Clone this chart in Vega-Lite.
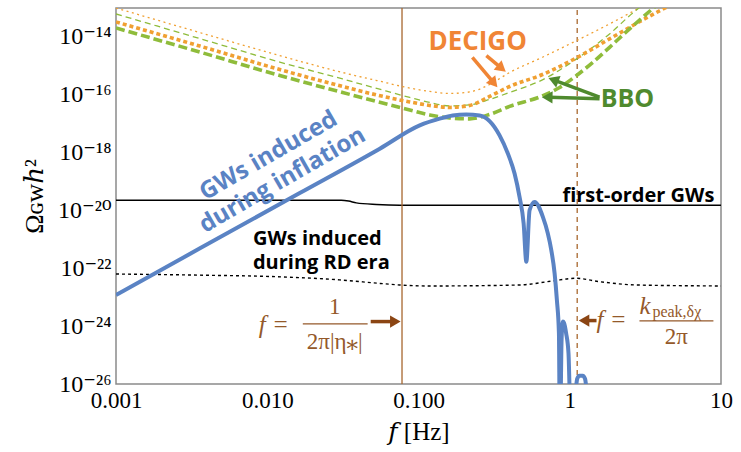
{
  "$schema": "https://vega.github.io/schema/vega-lite/v6.json",
  "width": 605,
  "height": 376,
  "autosize": {"type": "none"},
  "padding": {"left": 116, "top": 8, "right": 20, "bottom": 68},
  "background": "white",
  "config": {
    "view": {"stroke": "#8a8a8a", "strokeWidth": 1.5},
    "axis": {
      "grid": false,
      "domain": false,
      "ticks": false,
      "tickSize": 0,
      "labelFont": "Liberation Serif, DejaVu Serif",
      "labelFontSize": 23,
      "labelColor": "black",
      "titleFont": "Liberation Serif, DejaVu Serif",
      "titleFontWeight": "normal",
      "titleFontSize": 25,
      "titleColor": "black",
      "labelOverlap": false,
      "labelFlush": false,
      "labelBound": false
    }
  },
  "datasets": {
    "curves": [
      {"series": "bbo_thick", "f": 0.001, "omega": 2.04e-14},
      {"series": "bbo_thick", "f": 0.00359, "omega": 2.99e-15},
      {"series": "bbo_thick", "f": 0.0121, "omega": 4.63e-16},
      {"series": "bbo_thick", "f": 0.0315, "omega": 1.2e-16},
      {"series": "bbo_thick", "f": 0.053, "omega": 5.87e-17},
      {"series": "bbo_thick", "f": 0.0875, "omega": 2.99e-17},
      {"series": "bbo_thick", "f": 0.1186, "omega": 2.01e-17},
      {"series": "bbo_thick", "f": 0.1607, "omega": 1.58e-17},
      {"series": "bbo_thick", "f": 0.2178, "omega": 1.47e-17},
      {"series": "bbo_thick", "f": 0.295, "omega": 2.09e-17},
      {"series": "bbo_thick", "f": 0.4, "omega": 3.95e-17},
      {"series": "bbo_thick", "f": 0.66, "omega": 9.2e-17},
      {"series": "bbo_thick", "f": 0.857, "omega": 1.79e-16},
      {"series": "bbo_thick", "f": 1.109, "omega": 4.63e-16},
      {"series": "bbo_thick", "f": 1.415, "omega": 1.3e-15},
      {"series": "bbo_thick", "f": 1.833, "omega": 4.37e-15},
      {"series": "bbo_thick", "f": 2.373, "omega": 1.52e-14},
      {"series": "bbo_thick", "f": 3.03, "omega": 4.74e-14},
      {"series": "bbo_thick", "f": 3.92, "omega": 1.52e-13},
      {"series": "bbo_thin", "f": 0.001, "omega": 6.21e-14},
      {"series": "bbo_thin", "f": 0.00359, "omega": 8.73e-15},
      {"series": "bbo_thin", "f": 0.0121, "omega": 1.35e-15},
      {"series": "bbo_thin", "f": 0.0315, "omega": 3.51e-16},
      {"series": "bbo_thin", "f": 0.053, "omega": 1.65e-16},
      {"series": "bbo_thin", "f": 0.0875, "omega": 8.07e-17},
      {"series": "bbo_thin", "f": 0.1186, "omega": 5.42e-17},
      {"series": "bbo_thin", "f": 0.1607, "omega": 4.11e-17},
      {"series": "bbo_thin", "f": 0.2178, "omega": 4.45e-17},
      {"series": "bbo_thin", "f": 0.295, "omega": 6.89e-17},
      {"series": "bbo_thin", "f": 0.4, "omega": 1.2e-16},
      {"series": "bbo_thin", "f": 0.66, "omega": 3.29e-16},
      {"series": "bbo_thin", "f": 1.109, "omega": 1.74e-15},
      {"series": "bbo_thin", "f": 1.833, "omega": 1.27e-14},
      {"series": "bbo_thin", "f": 2.81, "omega": 9.25e-14},
      {"series": "bbo_thin", "f": 3.37, "omega": 1.79e-13},
      {"series": "decigo_thick", "f": 0.001, "omega": 3.29e-14},
      {"series": "decigo_thick", "f": 0.00359, "omega": 4.82e-15},
      {"series": "decigo_thick", "f": 0.0121, "omega": 7.45e-16},
      {"series": "decigo_thick", "f": 0.0315, "omega": 1.93e-16},
      {"series": "decigo_thick", "f": 0.053, "omega": 9.84e-17},
      {"series": "decigo_thick", "f": 0.0875, "omega": 5.65e-17},
      {"series": "decigo_thick", "f": 0.1186, "omega": 4.28e-17},
      {"series": "decigo_thick", "f": 0.1607, "omega": 3.65e-17},
      {"series": "decigo_thick", "f": 0.2178, "omega": 4.28e-17},
      {"series": "decigo_thick", "f": 0.295, "omega": 8.73e-17},
      {"series": "decigo_thick", "f": 0.4, "omega": 1.93e-16},
      {"series": "decigo_thick", "f": 0.66, "omega": 5.01e-16},
      {"series": "decigo_thick", "f": 1.109, "omega": 1.89e-15},
      {"series": "decigo_thick", "f": 1.833, "omega": 8.53e-15},
      {"series": "decigo_thick", "f": 3.03, "omega": 3.85e-14},
      {"series": "decigo_thick", "f": 4.56, "omega": 1.2e-13},
      {"series": "decigo_thin", "f": 0.001, "omega": 1.0e-13},
      {"series": "decigo_thin", "f": 0.00359, "omega": 1.41e-14},
      {"series": "decigo_thin", "f": 0.0121, "omega": 2.26e-15},
      {"series": "decigo_thin", "f": 0.0315, "omega": 5.87e-16},
      {"series": "decigo_thin", "f": 0.053, "omega": 3.11e-16},
      {"series": "decigo_thin", "f": 0.0875, "omega": 1.71e-16},
      {"series": "decigo_thin", "f": 0.1186, "omega": 1.3e-16},
      {"series": "decigo_thin", "f": 0.1607, "omega": 1.11e-16},
      {"series": "decigo_thin", "f": 0.2178, "omega": 1.25e-16},
      {"series": "decigo_thin", "f": 0.295, "omega": 2.26e-16},
      {"series": "decigo_thin", "f": 0.4, "omega": 5.87e-16},
      {"series": "decigo_thin", "f": 0.66, "omega": 1.98e-15},
      {"series": "decigo_thin", "f": 1.109, "omega": 7.45e-15},
      {"series": "decigo_thin", "f": 1.833, "omega": 2.81e-14},
      {"series": "decigo_thin", "f": 2.89, "omega": 1.0e-13},
      {"series": "decigo_thin", "f": 3.63, "omega": 1.79e-13},
      {"series": "inflation", "f": 0.001, "omega": 1.2e-23},
      {"series": "inflation", "f": 0.00359, "omega": 4.9e-22},
      {"series": "inflation", "f": 0.0164, "omega": 4.01e-20},
      {"series": "inflation", "f": 0.0555, "omega": 1.37e-18},
      {"series": "inflation", "f": 0.1019, "omega": 8.73e-18},
      {"series": "inflation", "f": 0.138, "omega": 1.49e-17},
      {"series": "inflation", "f": 0.1683, "omega": 1.93e-17},
      {"series": "inflation", "f": 0.207, "omega": 2.09e-17},
      {"series": "inflation", "f": 0.2535, "omega": 1.93e-17},
      {"series": "inflation", "f": 0.295, "omega": 1.23e-17},
      {"series": "inflation", "f": 0.3436, "omega": 3.95e-18},
      {"series": "inflation", "f": 0.39, "omega": 9.25e-19},
      {"series": "inflation", "f": 0.4317, "omega": 1.89e-19},
      {"series": "inflation", "f": 0.4656, "omega": 2.94e-20},
      {"series": "inflation", "f": 0.4955, "omega": 3.56e-21},
      {"series": "inflation", "f": 0.5164, "omega": 1.69e-22},
      {"series": "inflation", "f": 0.5425, "omega": 1.02e-20},
      {"series": "inflation", "f": 0.5853, "omega": 1.98e-20},
      {"series": "inflation", "f": 0.664, "omega": 6.01e-21},
      {"series": "inflation", "f": 0.716, "omega": 1.61e-21},
      {"series": "inflation", "f": 0.755, "omega": 4.28e-22},
      {"series": "inflation", "f": 0.794, "omega": 6.73e-23},
      {"series": "inflation", "f": 0.822, "omega": 8.07e-24},
      {"series": "inflation", "f": 0.848, "omega": 5.74e-25},
      {"series": "inflation", "f": 0.858, "omega": 1e-27},
      {"series": "inflation", "f": 0.866, "omega": 1e-27},
      {"series": "inflation", "f": 0.883, "omega": 3.37e-25},
      {"series": "inflation", "f": 0.9, "omega": 1.44e-24},
      {"series": "inflation", "f": 0.916, "omega": 1.3e-24},
      {"series": "inflation", "f": 0.946, "omega": 5.74e-25},
      {"series": "inflation", "f": 0.981, "omega": 1.17e-25},
      {"series": "inflation", "f": 1.012, "omega": 1e-27},
      {"series": "inflation", "f": 1.096, "omega": 6.4e-27},
      {"series": "inflation", "f": 1.12, "omega": 1.52e-26},
      {"series": "inflation", "f": 1.159, "omega": 1.93e-26},
      {"series": "inflation", "f": 1.219, "omega": 1.93e-26},
      {"series": "inflation", "f": 1.262, "omega": 1.52e-26},
      {"series": "inflation", "f": 1.291, "omega": 6.4e-27},
      {"series": "first_order", "f": 0.001, "omega": 2.26e-20},
      {"series": "first_order", "f": 0.0309, "omega": 2.26e-20},
      {"series": "first_order", "f": 0.0345, "omega": 2.12e-20},
      {"series": "first_order", "f": 0.0388, "omega": 1.83e-20},
      {"series": "first_order", "f": 0.0527, "omega": 1.61e-20},
      {"series": "first_order", "f": 0.0752, "omega": 1.52e-20},
      {"series": "first_order", "f": 10, "omega": 1.52e-20},
      {"series": "rd", "f": 0.001, "omega": 6.35e-23},
      {"series": "rd", "f": 0.00359, "omega": 5.8e-23},
      {"series": "rd", "f": 0.0115, "omega": 5.13e-23},
      {"series": "rd", "f": 0.03, "omega": 3.98e-23},
      {"series": "rd", "f": 0.0557, "omega": 3.0e-23},
      {"series": "rd", "f": 0.0752, "omega": 2.65e-23},
      {"series": "rd", "f": 0.1186, "omega": 2.45e-23},
      {"series": "rd", "f": 0.466, "omega": 2.65e-23},
      {"series": "rd", "f": 0.769, "omega": 3.65e-23},
      {"series": "rd", "f": 1.09, "omega": 4.52e-23},
      {"series": "rd", "f": 1.575, "omega": 3.45e-23},
      {"series": "rd", "f": 2.76, "omega": 2.65e-23},
      {"series": "rd", "f": 10, "omega": 2.45e-23}
    ],
    "xticks": [
      {"f": 0.001, "k": "major"}, {"f": 0.002, "k": "minor"}, {"f": 0.003, "k": "minor"}, {"f": 0.004, "k": "minor"}, {"f": 0.005, "k": "minor"}, {"f": 0.006, "k": "minor"}, {"f": 0.007, "k": "minor"}, {"f": 0.008, "k": "minor"}, {"f": 0.009, "k": "minor"},
      {"f": 0.01, "k": "major"}, {"f": 0.02, "k": "minor"}, {"f": 0.03, "k": "minor"}, {"f": 0.04, "k": "minor"}, {"f": 0.05, "k": "minor"}, {"f": 0.06, "k": "minor"}, {"f": 0.07, "k": "minor"}, {"f": 0.08, "k": "minor"}, {"f": 0.09, "k": "minor"},
      {"f": 0.1, "k": "major"}, {"f": 0.2, "k": "minor"}, {"f": 0.3, "k": "minor"}, {"f": 0.4, "k": "minor"}, {"f": 0.5, "k": "minor"}, {"f": 0.6, "k": "minor"}, {"f": 0.7, "k": "minor"}, {"f": 0.8, "k": "minor"}, {"f": 0.9, "k": "minor"},
      {"f": 1, "k": "major"}, {"f": 2, "k": "minor"}, {"f": 3, "k": "minor"}, {"f": 4, "k": "minor"}, {"f": 5, "k": "minor"}, {"f": 6, "k": "minor"}, {"f": 7, "k": "minor"}, {"f": 8, "k": "minor"}, {"f": 9, "k": "minor"},
      {"f": 10, "k": "major"}
    ],
    "yticks": [
      {"omega": 1e-26, "k": "major"}, {"omega": 1e-25, "k": "minor"}, {"omega": 1e-24, "k": "major"}, {"omega": 1e-23, "k": "minor"},
      {"omega": 1e-22, "k": "major"}, {"omega": 1e-21, "k": "minor"}, {"omega": 1e-20, "k": "major"}, {"omega": 1e-19, "k": "minor"},
      {"omega": 1e-18, "k": "major"}, {"omega": 1e-17, "k": "minor"}, {"omega": 1e-16, "k": "major"}, {"omega": 1e-15, "k": "minor"},
      {"omega": 1e-14, "k": "major"}
    ],
    "vlines": [
      {"kind": "solid", "f": 0.0778, "omega": 1e-26, "omega2": 1e-13},
      {"kind": "dashed", "f": 1.12, "omega": 1e-26, "omega2": 1e-13}
    ],
    "shafts": [
      {"id": "dec1", "kind": "orange", "f": 0.227, "omega": 1.98e-15, "f2": 0.31, "omega2": 2.83e-16},
      {"id": "dec2", "kind": "orange", "f": 0.281, "omega": 2.26e-15, "f2": 0.3467, "omega2": 9.02e-16},
      {"id": "bbo1", "kind": "green", "f": 1.574, "omega": 8.26e-17, "f2": 0.804, "omega2": 3.09e-16},
      {"id": "bbo2", "kind": "green", "f": 1.574, "omega": 7.28e-17, "f2": 0.733, "omega2": 8.13e-17},
      {"id": "left", "kind": "brown", "f": 0.0483, "omega": 1.44e-24, "f2": 0.0665, "omega2": 1.44e-24},
      {"id": "right", "kind": "brown", "f": 1.503, "omega": 1.56e-24, "f2": 1.311, "omega2": 1.56e-24}
    ],
    "heads": [
      {"id": "dec1", "kind": "orange", "f": 0.3155, "omega": 2.51e-16, "ang": 140},
      {"id": "dec2", "kind": "orange", "f": 0.3548, "omega": 8.13e-16, "ang": 130},
      {"id": "bbo1", "kind": "green", "f": 0.78, "omega": 3.27e-16, "ang": -69},
      {"id": "bbo2", "kind": "green", "f": 0.71, "omega": 8.13e-17, "ang": -89},
      {"id": "left", "kind": "brown", "f": 0.0703, "omega": 1.44e-24, "ang": 90},
      {"id": "right", "kind": "brown", "f": 1.243, "omega": 1.56e-24, "ang": -90}
    ],
    "bars": [
      {"f": 0.01718, "f2": 0.0461, "omega": 1.2e-24},
      {"f": 2.89, "f2": 8.91, "omega": 1.52e-24}
    ],
    "texts": [
      {"id": "decigo", "text": "DECIGO", "f": 0.246, "omega": 6.52e-15},
      {"id": "bbo", "text": "BBO", "f": 2.41, "omega": 6.89e-17},
      {"id": "first", "text": "first-order GWs", "f": 9.04, "omega": 1.98e-20},
      {"id": "rd", "text": "GWs induced\nduring RD era", "f": 0.00804, "omega": 6.35e-22},
      {"id": "infl", "text": "GWs induced\nduring inflation", "f": 0.0102, "omega": 7.6e-19},
      {"id": "feq1", "text": "f =", "f": 0.0139, "omega": 1.11e-24},
      {"id": "num1", "text": "1", "f": 0.02795, "omega": 4.63e-24},
      {"id": "den1", "text": "2π|η⁎|", "f": 0.02795, "omega": 2.88e-25},
      {"id": "feq2", "text": "f =", "f": 1.503, "omega": 1.65e-24},
      {"id": "k", "text": "k", "f": 2.89, "omega": 5.01e-24},
      {"id": "sub", "text": "peak,δχ", "f": 3.52, "omega": 3.11e-24},
      {"id": "den2", "text": "2π", "f": 5.07, "omega": 4.28e-25}
    ]
  },
  "encoding": {
    "x": {"field": "f", "type": "quantitative", "scale": {"type": "log", "domain": [0.001, 10], "nice": false}, "axis": null},
    "y": {"field": "omega", "type": "quantitative", "scale": {"type": "log", "domain": [1e-26, 1e-13], "nice": false}, "axis": null}
  },
  "layer": [
    {
      "data": {"name": "curves"},
      "transform": [{"filter": "datum.series == 'first_order'"}],
      "mark": {"type": "line", "color": "black", "strokeWidth": 1.5, "clip": true, "interpolate": "monotone"},
      "encoding": {
        "x": {"field": "f", "type": "quantitative", "scale": {"type": "log", "domain": [0.001, 10], "nice": false},
          "axis": {"orient": "bottom", "title": "𝑓 [Hz]", "titlePadding": 7,
            "values": [0.001, 0.01, 0.1, 1, 10],
            "labelExpr": "datum.value < 1 ? format(datum.value, '.3f') : format(datum.value, 'd')",
            "labelPadding": 5}},
        "y": {"field": "omega", "type": "quantitative", "scale": {"type": "log", "domain": [1e-26, 1e-13], "nice": false},
          "axis": {"orient": "left", "title": "Ωɢᴡℎ²", "titlePadding": 10, "titleFontSize": 26,
            "values": [1e-26, 1e-24, 1e-22, 1e-20, 1e-18, 1e-16, 1e-14],
            "labelExpr": "'10⁻' + substring('⁰¹²³⁴⁵⁶⁷⁸⁹', floor(-round(log(datum.value)/LN10)/10), floor(-round(log(datum.value)/LN10)/10) + 1) + substring('⁰¹²³⁴⁵⁶⁷⁸⁹', (-round(log(datum.value)/LN10)) % 10, (-round(log(datum.value)/LN10)) % 10 + 1)",
            "labelFontSize": 24,
            "labelPadding": 5}}
      }
    },
    {
      "data": {"name": "xticks"},
      "transform": [{"filter": "datum.k == 'major'"}],
      "mark": {"type": "rule", "color": "#8a8a8a", "strokeWidth": 1.3},
      "encoding": {"y": {"datum": 1e-26}, "y2": {"datum": 4.18e-26}}
    },
    {
      "data": {"name": "xticks"},
      "transform": [{"filter": "datum.k == 'minor'"}],
      "mark": {"type": "rule", "color": "#8a8a8a", "strokeWidth": 1.3},
      "encoding": {"y": {"datum": 1e-26}, "y2": {"datum": 2.04e-26}}
    },
    {
      "data": {"name": "xticks"},
      "transform": [{"filter": "datum.k == 'major'"}],
      "mark": {"type": "rule", "color": "#8a8a8a", "strokeWidth": 1.3},
      "encoding": {"y": {"datum": 1e-13}, "y2": {"datum": 2.39e-14}}
    },
    {
      "data": {"name": "xticks"},
      "transform": [{"filter": "datum.k == 'minor'"}],
      "mark": {"type": "rule", "color": "#8a8a8a", "strokeWidth": 1.3},
      "encoding": {"y": {"datum": 1e-13}, "y2": {"datum": 4.9e-14}}
    },
    {
      "data": {"name": "yticks"},
      "transform": [{"filter": "datum.k == 'major'"}],
      "mark": {"type": "rule", "color": "#8a8a8a", "strokeWidth": 1.3},
      "encoding": {"x": {"datum": 0.001}, "x2": {"datum": 0.001295}}
    },
    {
      "data": {"name": "yticks"},
      "transform": [{"filter": "datum.k == 'minor'"}],
      "mark": {"type": "rule", "color": "#8a8a8a", "strokeWidth": 1.3},
      "encoding": {"x": {"datum": 0.001}, "x2": {"datum": 0.001147}}
    },
    {
      "data": {"name": "yticks"},
      "transform": [{"filter": "datum.k == 'major'"}],
      "mark": {"type": "rule", "color": "#8a8a8a", "strokeWidth": 1.3},
      "encoding": {"x": {"datum": 10}, "x2": {"datum": 7.72}}
    },
    {
      "data": {"name": "yticks"},
      "transform": [{"filter": "datum.k == 'minor'"}],
      "mark": {"type": "rule", "color": "#8a8a8a", "strokeWidth": 1.3},
      "encoding": {"x": {"datum": 10}, "x2": {"datum": 8.72}}
    },
    {
      "data": {"name": "curves"},
      "transform": [{"filter": "datum.series == 'rd'"}],
      "mark": {"type": "line", "color": "black", "strokeWidth": 1.4, "strokeDash": [3, 3], "clip": true, "interpolate": "monotone"}
    },
    {
      "data": {"name": "vlines"},
      "transform": [{"filter": "datum.kind == 'solid'"}],
      "mark": {"type": "rule", "color": "#a8672e", "strokeWidth": 1.3},
      "encoding": {"y2": {"field": "omega2"}}
    },
    {
      "data": {"name": "vlines"},
      "transform": [{"filter": "datum.kind == 'dashed'"}],
      "mark": {"type": "rule", "color": "#a8672e", "strokeWidth": 1.3, "strokeDash": [5, 4]},
      "encoding": {"y2": {"field": "omega2"}}
    },
    {
      "data": {"name": "curves"},
      "transform": [{"filter": "datum.series == 'decigo_thin'"}],
      "mark": {"type": "line", "color": "#f0a032", "strokeWidth": 1.3, "strokeDash": [2, 3.5], "clip": true, "interpolate": "monotone"}
    },
    {
      "data": {"name": "curves"},
      "transform": [{"filter": "datum.series == 'bbo_thin'"}],
      "mark": {"type": "line", "color": "#8fbc3b", "strokeWidth": 1.3, "strokeDash": [6, 4], "clip": true, "interpolate": "monotone"}
    },
    {
      "data": {"name": "curves"},
      "transform": [{"filter": "datum.series == 'decigo_thick'"}],
      "mark": {"type": "line", "color": "#f0a032", "strokeWidth": 3.6, "strokeDash": [4, 3], "clip": true, "interpolate": "monotone"}
    },
    {
      "data": {"name": "curves"},
      "transform": [{"filter": "datum.series == 'bbo_thick'"}],
      "mark": {"type": "line", "color": "#8fbc3b", "strokeWidth": 3.6, "strokeDash": [9, 4], "clip": true, "interpolate": "monotone"}
    },
    {
      "data": {"name": "curves"},
      "transform": [{"filter": "datum.series == 'inflation'"}],
      "mark": {"type": "line", "color": "#5a83c4", "strokeWidth": 4, "clip": true, "interpolate": "monotone", "strokeJoin": "round"}
    },
    {
      "data": {"name": "shafts"},
      "mark": {"type": "rule", "strokeWidth": 3.5},
      "encoding": {
        "x2": {"field": "f2"},
        "y2": {"field": "omega2"},
        "color": {"field": "kind", "type": "nominal", "scale": {"domain": ["orange", "green", "brown"], "range": ["#f08535", "#4f8a2e", "#8b4513"]}, "legend": null}
      }
    },
    {
      "data": {"name": "heads"},
      "mark": {"type": "point", "shape": "triangle-up", "filled": true, "opacity": 1, "size": 150},
      "encoding": {
        "angle": {"field": "ang", "type": "quantitative", "scale": null},
        "color": {"field": "kind", "type": "nominal", "scale": {"domain": ["orange", "green", "brown"], "range": ["#f08535", "#4f8a2e", "#8b4513"]}, "legend": null}
      }
    },
    {
      "data": {"name": "bars"},
      "mark": {"type": "rule", "color": "#94592a", "strokeWidth": 1.3},
      "encoding": {"x2": {"field": "f2"}}
    },
    {
      "data": {"name": "texts"},
      "transform": [{"filter": "datum.id == 'infl'"}],
      "mark": {"type": "text", "font": "Open Sans", "fontWeight": "bold", "fontSize": 24, "color": "#5a83c4", "angle": -30, "align": "center", "baseline": "middle", "lineBreak": "\n", "lineHeight": 28},
      "encoding": {"text": {"field": "text"}}
    },
    {
      "data": {"name": "texts"},
      "transform": [{"filter": "datum.id == 'rd'"}],
      "mark": {"type": "text", "font": "Open Sans", "fontWeight": "bold", "fontSize": 20, "color": "black", "align": "left", "baseline": "alphabetic", "lineBreak": "\n", "lineHeight": 24},
      "encoding": {"text": {"field": "text"}}
    },
    {
      "data": {"name": "texts"},
      "transform": [{"filter": "datum.id == 'first'"}],
      "mark": {"type": "text", "font": "Open Sans", "fontWeight": "bold", "fontSize": 20, "color": "black", "align": "right", "baseline": "alphabetic"},
      "encoding": {"text": {"field": "text"}}
    },
    {
      "data": {"name": "texts"},
      "transform": [{"filter": "datum.id == 'decigo'"}],
      "mark": {"type": "text", "font": "Open Sans", "fontWeight": "bold", "fontSize": 26, "color": "#f08535", "align": "center", "baseline": "middle"},
      "encoding": {"text": {"field": "text"}}
    },
    {
      "data": {"name": "texts"},
      "transform": [{"filter": "datum.id == 'bbo'"}],
      "mark": {"type": "text", "font": "Open Sans", "fontWeight": "bold", "fontSize": 25, "color": "#4f8a2e", "align": "center", "baseline": "middle"},
      "encoding": {"text": {"field": "text"}}
    },
    {
      "data": {"name": "texts"},
      "transform": [{"filter": "datum.id == 'feq1'"}],
      "mark": {"type": "text", "font": "Liberation Serif, DejaVu Serif", "fontStyle": "italic", "fontSize": 25, "color": "#94592a", "align": "right", "baseline": "middle"},
      "encoding": {"text": {"field": "text"}}
    },
    {
      "data": {"name": "texts"},
      "transform": [{"filter": "datum.id == 'num1' || datum.id == 'den1' || datum.id == 'den2'"}],
      "mark": {"type": "text", "font": "Liberation Serif, DejaVu Serif", "fontSize": 23, "color": "#94592a", "align": "center", "baseline": "middle"},
      "encoding": {"text": {"field": "text"}}
    },
    {
      "data": {"name": "texts"},
      "transform": [{"filter": "datum.id == 'feq2' || datum.id == 'k'"}],
      "mark": {"type": "text", "font": "Liberation Serif, DejaVu Serif", "fontStyle": "italic", "fontSize": 25, "color": "#94592a", "align": "left", "baseline": "middle"},
      "encoding": {"text": {"field": "text"}}
    },
    {
      "data": {"name": "texts"},
      "transform": [{"filter": "datum.id == 'sub'"}],
      "mark": {"type": "text", "font": "Liberation Serif, DejaVu Serif", "fontSize": 16, "color": "#94592a", "align": "left", "baseline": "middle"},
      "encoding": {"text": {"field": "text"}}
    }
  ],
  "resolve": {"axis": {"x": "independent", "y": "independent"}}
}
